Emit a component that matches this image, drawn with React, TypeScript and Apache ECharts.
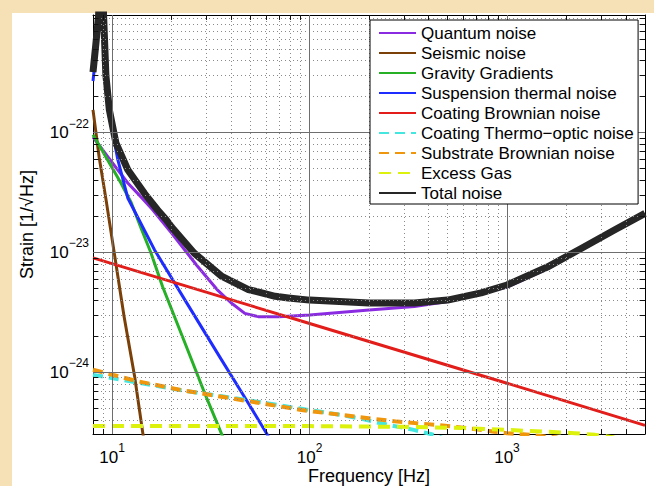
import React, { useEffect, useRef } from 'react';
import * as echarts from 'echarts';

// Axis ranges and tick values
const X_MIN = 8;
const X_MAX = 5000;
const Y_MIN = 3.05e-25;
const Y_MAX = 9.6e-22;
const X_MAJOR = [10, 100, 1000];
const X_MINOR = [9, 20, 30, 40, 50, 60, 70, 80, 90, 200, 300, 400, 500, 600, 700, 800, 900, 2000, 3000, 4000];
const Y_MAJOR = [1e-24, 1e-23, 1e-22];
const Y_MINOR = [
  4e-25, 5e-25, 6e-25, 7e-25, 8e-25, 9e-25,
  2e-24, 3e-24, 4e-24, 5e-24, 6e-24, 7e-24, 8e-24, 9e-24,
  2e-23, 3e-23, 4e-23, 5e-23, 6e-23, 7e-23, 8e-23, 9e-23,
  2e-22, 3e-22, 4e-22, 5e-22, 6e-22, 7e-22, 8e-22, 9e-22,
];

const SERIES_NAMES = [
  'Quantum noise',
  'Seismic noise',
  'Gravity Gradients',
  'Suspension thermal noise',
  'Coating Brownian noise',
  'Coating Thermo\u2212optic noise',
  'Substrate Brownian noise',
  'Excess Gas',
  'Total noise',
];

// Series values (frequency [Hz], strain)
const quantumF = [8, 9.5, 12, 14.3, 16, 20, 27, 34, 40, 47, 55, 70, 100, 200, 340, 500, 680, 1000, 1600, 2400, 3500, 5000];
const quantumH = [9.2e-23, 6.3e-23, 3.8e-23, 2.8e-23, 2.28e-23, 1.45e-23, 7.7e-24, 4.9e-24, 3.8e-24, 3.1e-24, 2.91e-24, 2.9e-24, 3.0e-24, 3.3e-24, 3.53e-24, 3.9e-24, 4.4e-24, 5.15e-24, 7.3e-24, 1.06e-23, 1.5e-23, 2.07e-23];

const seismicF = [8, 8.6, 9.3, 10.26, 11.5, 13, 14.3, 15];
const seismicH = [1.55e-22, 6.2e-23, 2.8e-23, 9.8e-24, 2.9e-24, 9.2e-25, 3.1e-25, 1.9e-25];

const gravityF = [8, 9.7, 11.1, 12.5, 14, 15.7, 18, 23.3, 29.4, 35.7, 38];
const gravityH = [9.6e-23, 5.55e-23, 3.78e-23, 2.6e-23, 1.6e-23, 1.0e-23, 5.2e-24, 1.78e-24, 6.7e-25, 3.1e-25, 2.4e-25];

const suspensionF = [8, 8.3, 8.55, 8.85, 9.05, 9.3, 9.7, 10.7, 12, 16.4, 24.2, 35.7, 47, 60.5, 66];
const suspensionH = [2.7e-22, 4.8e-22, 9e-22, 5e-21, 9e-22, 2.7e-22, 1.36e-22, 5.9e-23, 2.85e-23, 1.05e-23, 3.65e-24, 1.28e-24, 6.15e-25, 3.1e-25, 2.4e-25];

const coatingBrF = [8, 100, 1000, 5000];
const coatingBrH = [9.0e-24, 2.55e-24, 8.1e-25, 3.6e-25];

const thermoOpticF = [8, 13.5, 22, 36, 57, 91, 150, 188, 220, 337, 410, 480];
const thermoOpticH = [9.5e-25, 8.2e-25, 7.1e-25, 6.3e-25, 5.6e-25, 4.95e-25, 4.35e-25, 4.05e-25, 3.8e-25, 3.3e-25, 3.05e-25, 2.8e-25];

const substrateF = [8, 13.5, 22.3, 35.7, 57, 91, 170, 277, 443, 679, 860, 1000, 1300, 1800];
const substrateH = [1.05e-24, 8.4e-25, 7.1e-25, 6.25e-25, 5.5e-25, 4.84e-25, 4.26e-25, 3.87e-25, 3.63e-25, 3.36e-25, 3.19e-25, 3.1e-25, 3.0e-25, 2.85e-25];

const gasF = [8, 100, 300, 600, 1000, 1500, 2200, 2800, 3500];
const gasH = [3.56e-25, 3.55e-25, 3.5e-25, 3.42e-25, 3.3e-25, 3.2e-25, 3.1e-25, 3.0e-25, 2.85e-25];

const totalF = [8, 8.28, 8.54, 8.85, 9.05, 9.3, 9.68, 10.45, 12, 14.6, 17, 18.8, 20, 26, 36, 49, 67, 78, 100, 200, 340, 500, 740, 1000, 1600, 2400, 3500, 5000];
const totalH = [3.2e-22, 5.6e-22, 9.6e-22, 5e-21, 9.6e-22, 3.0e-22, 1.55e-22, 8.2e-23, 4.9e-23, 3.1e-23, 2.26e-23, 1.87e-23, 1.63e-23, 9.9e-24, 6.3e-24, 4.9e-24, 4.3e-24, 4.17e-24, 4.0e-24, 3.78e-24, 3.79e-24, 4.0e-24, 4.6e-24, 5.35e-24, 7.55e-24, 1.09e-23, 1.54e-23, 2.12e-23];

const pairs = (f: number[], h: number[]) => f.map((v, i) => [v, h[i]]);

const FONT = 'Liberation Sans';

export default function App() {
  const ref = useRef<HTMLDivElement>(null);

  useEffect(() => {
    if (!ref.current) return;
    const chart = echarts.init(ref.current, undefined, { renderer: 'svg' });

    const minorLine = { type: [1, 3], color: '#8a8a8a', width: 1 };
    const majorLine = { type: 'solid', color: '#6e6e6e', width: 1 };
    const tickLine = { type: 'solid', color: '#111', width: 1 };

    const markData: any[] = [];
    X_MINOR.forEach((x) => markData.push([{ coord: [x, Y_MIN], lineStyle: minorLine }, { coord: [x, Y_MAX] }]));
    Y_MINOR.forEach((y) => markData.push([{ coord: [X_MIN, y], lineStyle: minorLine }, { coord: [X_MAX, y] }]));
    X_MAJOR.forEach((x) => markData.push([{ coord: [x, Y_MIN], lineStyle: majorLine }, { coord: [x, Y_MAX] }]));
    Y_MAJOR.forEach((y) => markData.push([{ coord: [X_MIN, y], lineStyle: majorLine }, { coord: [X_MAX, y] }]));
    X_MINOR.forEach((x) => {
      markData.push([{ coord: [x, Y_MIN], lineStyle: tickLine }, { coord: [x, Y_MIN * 1.1] }]);
      markData.push([{ coord: [x, Y_MAX], lineStyle: tickLine }, { coord: [x, Y_MAX / 1.1] }]);
    });
    Y_MINOR.forEach((y) => {
      markData.push([{ coord: [X_MIN, y], lineStyle: tickLine }, { coord: [X_MIN * 1.065, y] }]);
      markData.push([{ coord: [X_MAX, y], lineStyle: tickLine }, { coord: [X_MAX / 1.065, y] }]);
    });

    const rich = {
      b: { fontFamily: FONT, fontSize: 17, lineHeight: 30, color: '#000' },
      s: { fontFamily: FONT, fontSize: 12, lineHeight: 12, verticalAlign: 'top', color: '#000' },
    };
    const expOf = (v: number) => {
      const l = Math.log10(v);
      const e = Math.round(l);
      return Math.abs(l - e) < 1e-6 ? e : null;
    };
    const xfmt = (v: number) => {
      const e = expOf(v);
      if (e === null) return '';
      return `{b|10}{s|${e}}`;
    };
    const yfmt = (v: number) => {
      const e = expOf(v);
      if (e === null) return '';
      return `{b|10}{s|${e < 0 ? '\u2212' + -e : e}}`;
    };

    const mk = (name: string, f: number[], h: number[], color: string, width: number, dash: any = 'solid') => ({
      name,
      type: 'line',
      data: pairs(f, h),
      symbol: 'none',
      showSymbol: false,
      smooth: false,
      clip: true,
      z: 3,
      itemStyle: { color },
      lineStyle: { color, width, type: dash, cap: 'butt', join: 'round' },
    });

    const axisCommon = {
      type: 'log',
      logBase: 10,
      axisLine: { show: true, onZero: false, lineStyle: { color: '#000', width: 1 } },
      axisTick: { show: true, inside: true, length: 7, lineStyle: { color: '#000', width: 1 } },
      splitLine: { show: false },
      minorTick: { show: false },
      minorSplitLine: { show: false },
    };

    chart.setOption({
      animation: false,
      backgroundColor: 'transparent',
      grid: { left: 93, top: 15, width: 552, height: 419, containLabel: false, outerBoundsMode: 'none' },
      legend: {
        data: SERIES_NAMES,
        orient: 'vertical',
        left: 370,
        top: 20,
        itemWidth: 37,
        itemHeight: 14,
        itemGap: 0,
        padding: [3, 4, 1, 8],
        backgroundColor: '#fff',
        borderColor: '#000',
        borderWidth: 1,
        borderRadius: 0,
        selectedMode: false,
        z: 10,
        itemStyle: { opacity: 0, borderWidth: 0 },
        textStyle: { fontFamily: FONT, fontSize: 17, color: '#000', lineHeight: 20 },
      },
      xAxis: [
        {
          ...axisCommon,
          min: X_MIN,
          max: X_MAX,
          position: 'bottom',
          axisLabel: { margin: 8, formatter: xfmt, showMinLabel: false, showMaxLabel: false, rich },
          name: 'Frequency [Hz]',
          nameLocation: 'middle',
          nameGap: 33,
          nameMoveOverlap: false,
          nameTextStyle: { fontFamily: FONT, fontSize: 18, color: '#000' },
        },
        {
          ...axisCommon,
          min: X_MIN,
          max: X_MAX,
          position: 'top',
          axisLabel: { show: false },
        },
      ],
      yAxis: [
        {
          ...axisCommon,
          min: Y_MIN,
          max: Y_MAX,
          position: 'left',
          axisLabel: { margin: 4, formatter: yfmt, showMinLabel: false, showMaxLabel: false, rich },
          name: 'Strain [1/\u221AHz]',
          nameLocation: 'middle',
          nameGap: 57,
          nameMoveOverlap: false,
          nameRotate: 90,
          nameTextStyle: { fontFamily: FONT, fontSize: 18, color: '#000' },
        },
        {
          ...axisCommon,
          min: Y_MIN,
          max: Y_MAX,
          position: 'right',
          axisLabel: { show: false },
        },
      ],
      series: [
        {
          name: 'grid-lines',
          type: 'line',
          data: [],
          z: 1,
          silent: true,
          markLine: {
            silent: true,
            symbol: ['none', 'none'],
            label: { show: false },
            animation: false,
            data: markData,
          },
        },
        mk(SERIES_NAMES[0], quantumF, quantumH, '#8a2be2', 3),
        mk(SERIES_NAMES[1], seismicF, seismicH, '#7b3f08', 3),
        mk(SERIES_NAMES[2], gravityF, gravityH, '#25b025', 3),
        mk(SERIES_NAMES[3], suspensionF, suspensionH, '#1f2cff', 3),
        mk(SERIES_NAMES[4], coatingBrF, coatingBrH, '#e21d1a', 3),
        mk(SERIES_NAMES[5], thermoOpticF, thermoOpticH, '#44e6e0', 4, [10, 6]),
        mk(SERIES_NAMES[6], substrateF, substrateH, '#f0960c', 4, [10, 6]),
        mk(SERIES_NAMES[7], gasF, gasH, '#dcf20c', 4, [12, 7]),
        mk(SERIES_NAMES[8], totalF, totalH, '#262626', 7),
      ],
    });

    return () => chart.dispose();
  }, []);

  return (
    <div style={{ position: 'fixed', left: 0, top: 0, width: 654, height: 486, background: '#f6e0b5', overflow: 'hidden' }}>
      <div style={{ position: 'absolute', left: 12, top: 13, right: 0, bottom: 0, background: '#ffffff' }} />
      <div ref={ref} style={{ position: 'absolute', left: 0, top: 0, width: 654, height: 486 }} />
    </div>
  );
}
